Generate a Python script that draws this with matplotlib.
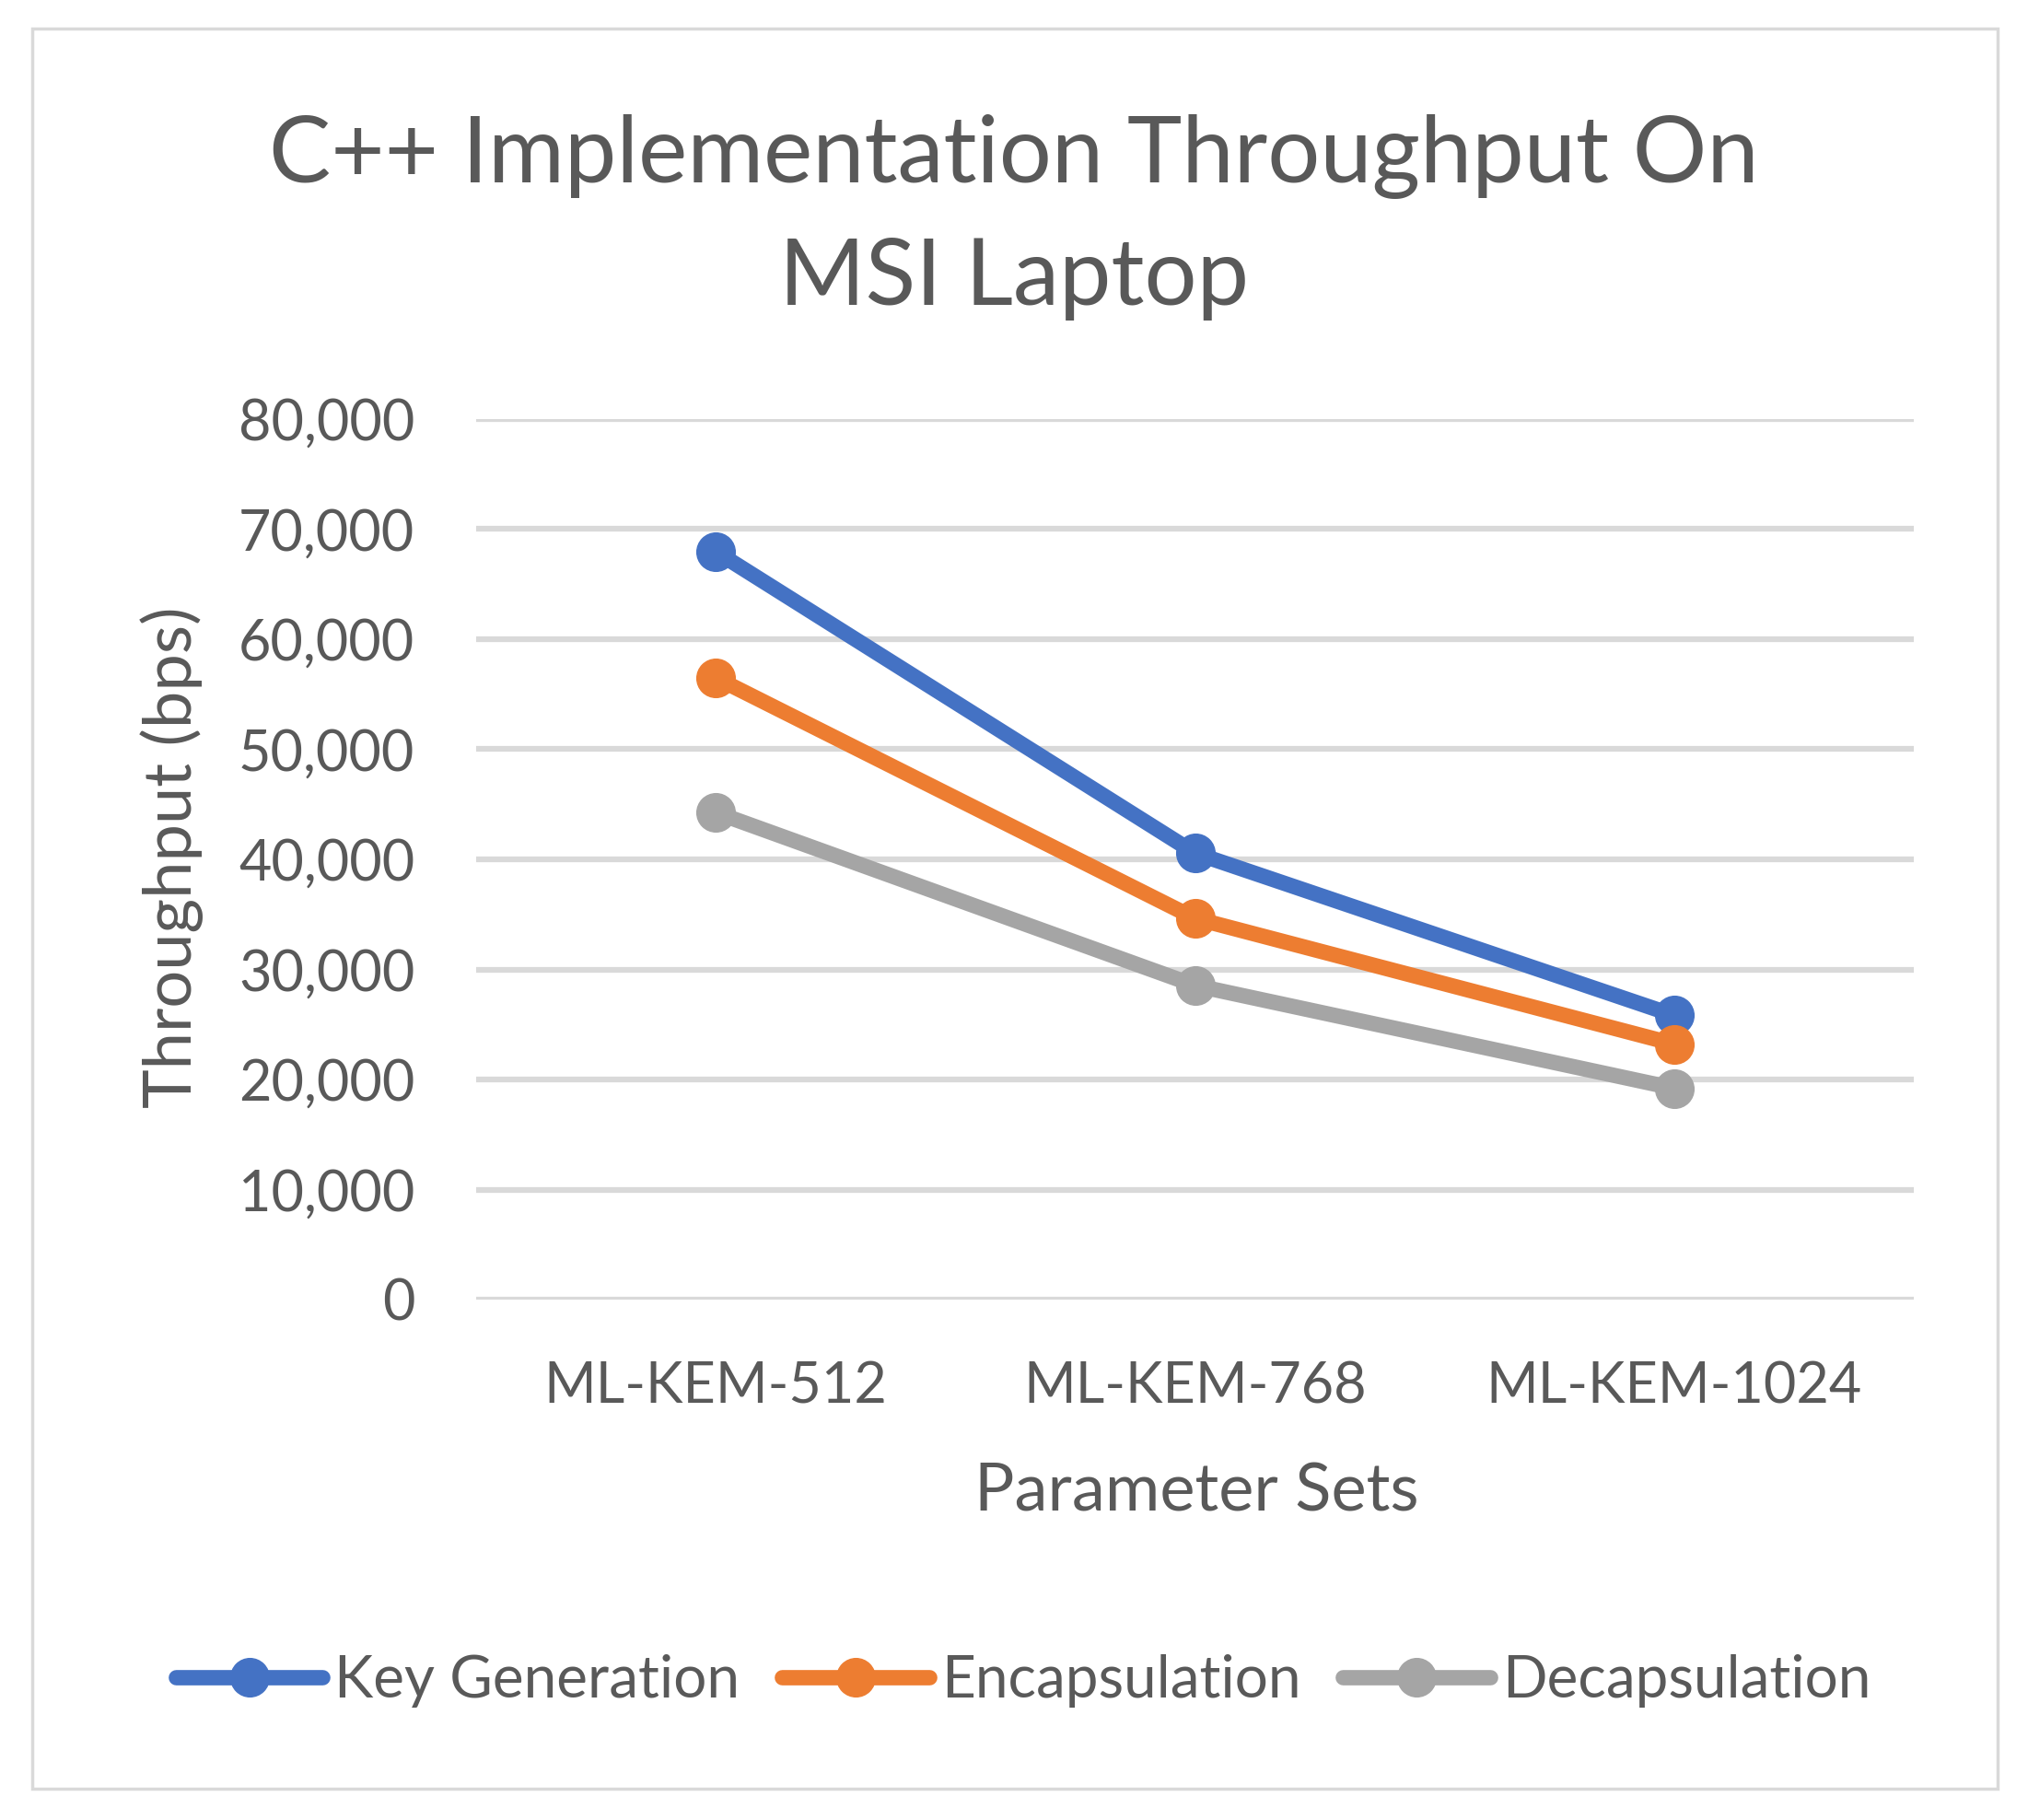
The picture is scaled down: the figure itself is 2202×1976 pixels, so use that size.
import matplotlib
matplotlib.use("Agg")
import matplotlib.pyplot as plt
from matplotlib.patches import Rectangle
from matplotlib.ticker import FuncFormatter

# data
param_sets = ["ML-KEM-512", "ML-KEM-768", "ML-KEM-1024"]
key_generation = [67970, 40570, 25830]
encapsulation = [56500, 34640, 23220]
decapsulation = [44260, 28550, 19200]
y_ticks = [0, 10000, 20000, 30000, 40000, 50000, 60000, 70000, 80000]

text_color = "#595959"
plt.rcParams["font.family"] = ["Lato", "DejaVu Sans"]

fig = plt.figure(figsize=(22.02, 19.76), dpi=100)
fig.patches.append(Rectangle((35 / 2202, 1 - 1942 / 1976), (2169 - 35) / 2202,
                             (1942 - 31) / 1976, transform=fig.transFigure,
                             fill=False, edgecolor="#d9d9d9", linewidth=2.5))

ax = fig.add_axes([517 / 2202, 1 - 1411 / 1976, (2078 - 517) / 2202, (1411 - 455) / 1976])

x = range(len(param_sets))
series = [("Key Generation", key_generation, "#4472C4"),
          ("Encapsulation", encapsulation, "#ED7D31"),
          ("Decapsulation", decapsulation, "#A5A5A5")]
for name, vals, col in series:
    ax.plot(x, vals, color=col, linewidth=12, marker="o", markersize=30,
            label=name, solid_capstyle="round", zorder=3)

ax.set_xlim(-0.5, 2.5)
ax.set_ylim(0, 80000)
ax.set_yticks(y_ticks)
ax.yaxis.set_major_formatter(FuncFormatter(lambda v, p: f"{int(v):,}"))
ax.set_xticks(list(x))
ax.set_xticklabels(param_sets)
ax.grid(axis="y", color="#d9d9d9", linewidth=4.5)
ax.set_axisbelow(True)
for s in ax.spines.values():
    s.set_visible(False)
ax.tick_params(length=0, labelsize=44, colors=text_color)
ax.tick_params(axis="y", pad=48)
ax.tick_params(axis="x", pad=48)

fig.text(0.5, 0.900, "C++ Implementation Throughput On", ha="center", va="baseline",
         fontsize=72.5, color=text_color)
fig.text(0.5, 0.8325, "MSI Laptop", ha="center", va="baseline",
         fontsize=72.5, color=text_color)
fig.text(0.590, 0.170, "Parameter Sets", ha="center", va="baseline",
         fontsize=52, color=text_color)
fig.text(0.0849, 0.529, "Throughput (bps)", ha="center", va="center",
         rotation=90, fontsize=52, color=text_color)

fig.legend(loc="center", bbox_to_anchor=(0.5045, 0.0764), ncol=3, frameon=False,
           fontsize=46, handlelength=2.5, handletextpad=0.2, columnspacing=0.72,
           labelcolor=text_color)

fig.savefig("out.png", dpi=100, facecolor="white")
